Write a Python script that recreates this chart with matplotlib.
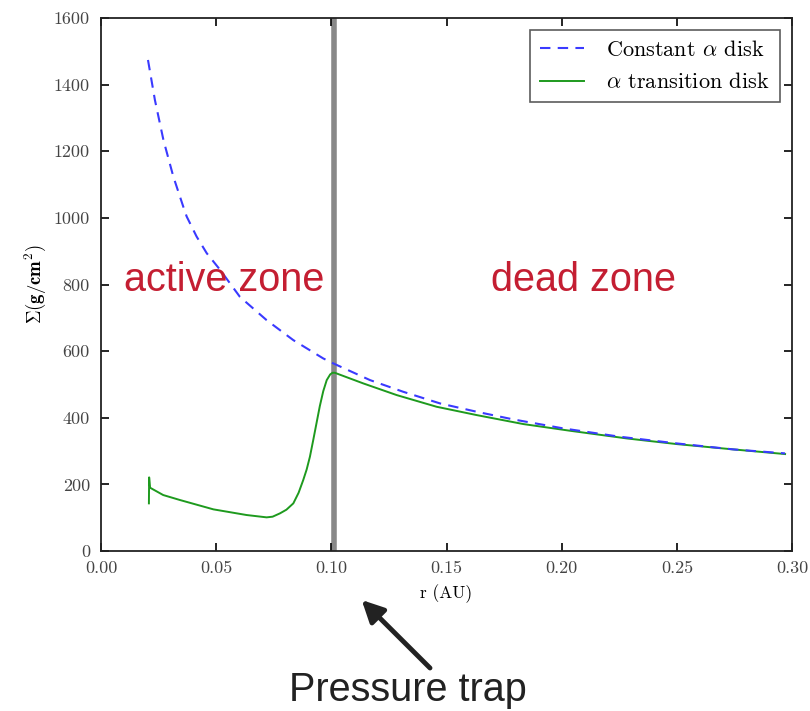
import matplotlib
matplotlib.use("Agg")
import matplotlib.pyplot as plt
from matplotlib.ticker import FixedLocator, FixedFormatter

plt.rcParams['mathtext.fontset'] = 'cm'
plt.rcParams['font.family'] = ['cmr10', 'DejaVu Serif']
plt.rcParams['axes.unicode_minus'] = False
plt.rcParams['axes.formatter.use_mathtext'] = True

# Constant alpha disk (blue dashed)
r_const = [0.0204, 0.0234, 0.0271, 0.0314, 0.0357, 0.0372, 0.0415, 0.0459, 0.0517,
           0.0603, 0.0719, 0.0835, 0.0965, 0.1009, 0.1168, 0.1312, 0.1472, 0.1631,
           0.179, 0.2007, 0.2253, 0.2499, 0.2745, 0.297]
sigma_const = [1474, 1354, 1234, 1124, 1034, 1004, 944, 894, 844,
               763, 693, 633, 578, 563, 513, 478, 443, 418,
               395, 368, 343, 323, 305, 293]

# Alpha transition disk (green)
r_trans = [0.0208, 0.0209, 0.0213, 0.027, 0.0343, 0.0488, 0.0632, 0.0719, 0.0745,
           0.0777, 0.0805, 0.0835, 0.0858, 0.0878, 0.0893, 0.0907, 0.0922, 0.0936,
           0.095, 0.0965, 0.098, 0.0995, 0.1005, 0.1015, 0.1139, 0.1284, 0.1457,
           0.1631, 0.1834, 0.2036, 0.2282, 0.2499, 0.2745, 0.297]
sigma_trans = [143, 221, 190, 168, 153, 125, 108, 101, 103,
               113, 124, 143, 175, 213, 245, 283, 335, 385,
               435, 480, 513, 530, 535, 535, 503, 468, 433,
               408, 381, 361, 338, 321, 305, 291]

trap_r = 0.101
x_ticks = [0.00, 0.05, 0.10, 0.15, 0.20, 0.25, 0.30]
x_labels = ["0.00", "0.05", "0.10", "0.15", "0.20", "0.25", "0.30"]
y_ticks = [0, 200, 400, 600, 800, 1000, 1200, 1400, 1600]
y_labels = ["0", "200", "400", "600", "800", "1000", "1200", "1400", "1600"]

fig = plt.figure(figsize=(8.1, 7.11), dpi=100)
ax = fig.add_axes([101/810, 1-551/711, (792-101)/810, (551-18)/711])

ax.axvline(trap_r, color='#888888', lw=4.0, zorder=1)
ax.plot(r_const, sigma_const, color='#3a3aff', lw=1.5, ls=(0, (5, 3.5)),
        label=r'Constant $\alpha$ disk', zorder=3)
ax.plot(r_trans, sigma_trans, color='#1e9a1e', lw=1.4,
        label=r'$\alpha$ transition disk', zorder=2)

ax.set_xlim(0, 0.30)
ax.set_ylim(0, 1600)
ax.xaxis.set_major_locator(FixedLocator(x_ticks))
ax.xaxis.set_major_formatter(FixedFormatter(x_labels))
ax.yaxis.set_major_locator(FixedLocator(y_ticks))
ax.yaxis.set_major_formatter(FixedFormatter(y_labels))
ax.tick_params(direction='in', length=6, width=1.2, top=True, right=True,
               labelsize=13, labelcolor='#444444')
ax.tick_params(axis='x', pad=7)
ax.tick_params(axis='y', pad=8)
for s in ax.spines.values():
    s.set_linewidth(1.3)
    s.set_color('#222222')

ax.set_xlabel('r (AU)', fontsize=12.5, labelpad=6)
ax.set_ylabel(r'$\Sigma(\mathbf{g/cm^2})$', fontsize=13.5, labelpad=4)

leg = ax.legend(loc='upper right', fontsize=16, frameon=True, fancybox=False,
                edgecolor='#333333', handlelength=2.0, handletextpad=1.0,
                borderpad=0.45, labelspacing=0.55, borderaxespad=0.55)
leg.get_frame().set_linewidth(1.2)

red = '#c41e32'
ax.text(0.0536, 813, 'active zone', color=red, fontsize=28.5,
        family='Liberation Sans', ha='center', va='center')
ax.text(0.2093, 813, 'dead zone', color=red, fontsize=28.5,
        family='Liberation Sans', ha='center', va='center')

fig.text(408/810, 1-690/711, 'Pressure trap', fontsize=28.5, family='Liberation Sans',
         color='#222222', ha='center', va='center')
ax.annotate('', xy=(361.7, 711-600), xycoords='figure pixels',
            xytext=(430, 711-668), textcoords='figure pixels',
            arrowprops=dict(arrowstyle='-|>,head_length=1.3,head_width=0.65',
                            lw=3.5, color='#222222', shrinkA=0, shrinkB=0),
            annotation_clip=False)

fig.savefig('out.png', dpi=100)
